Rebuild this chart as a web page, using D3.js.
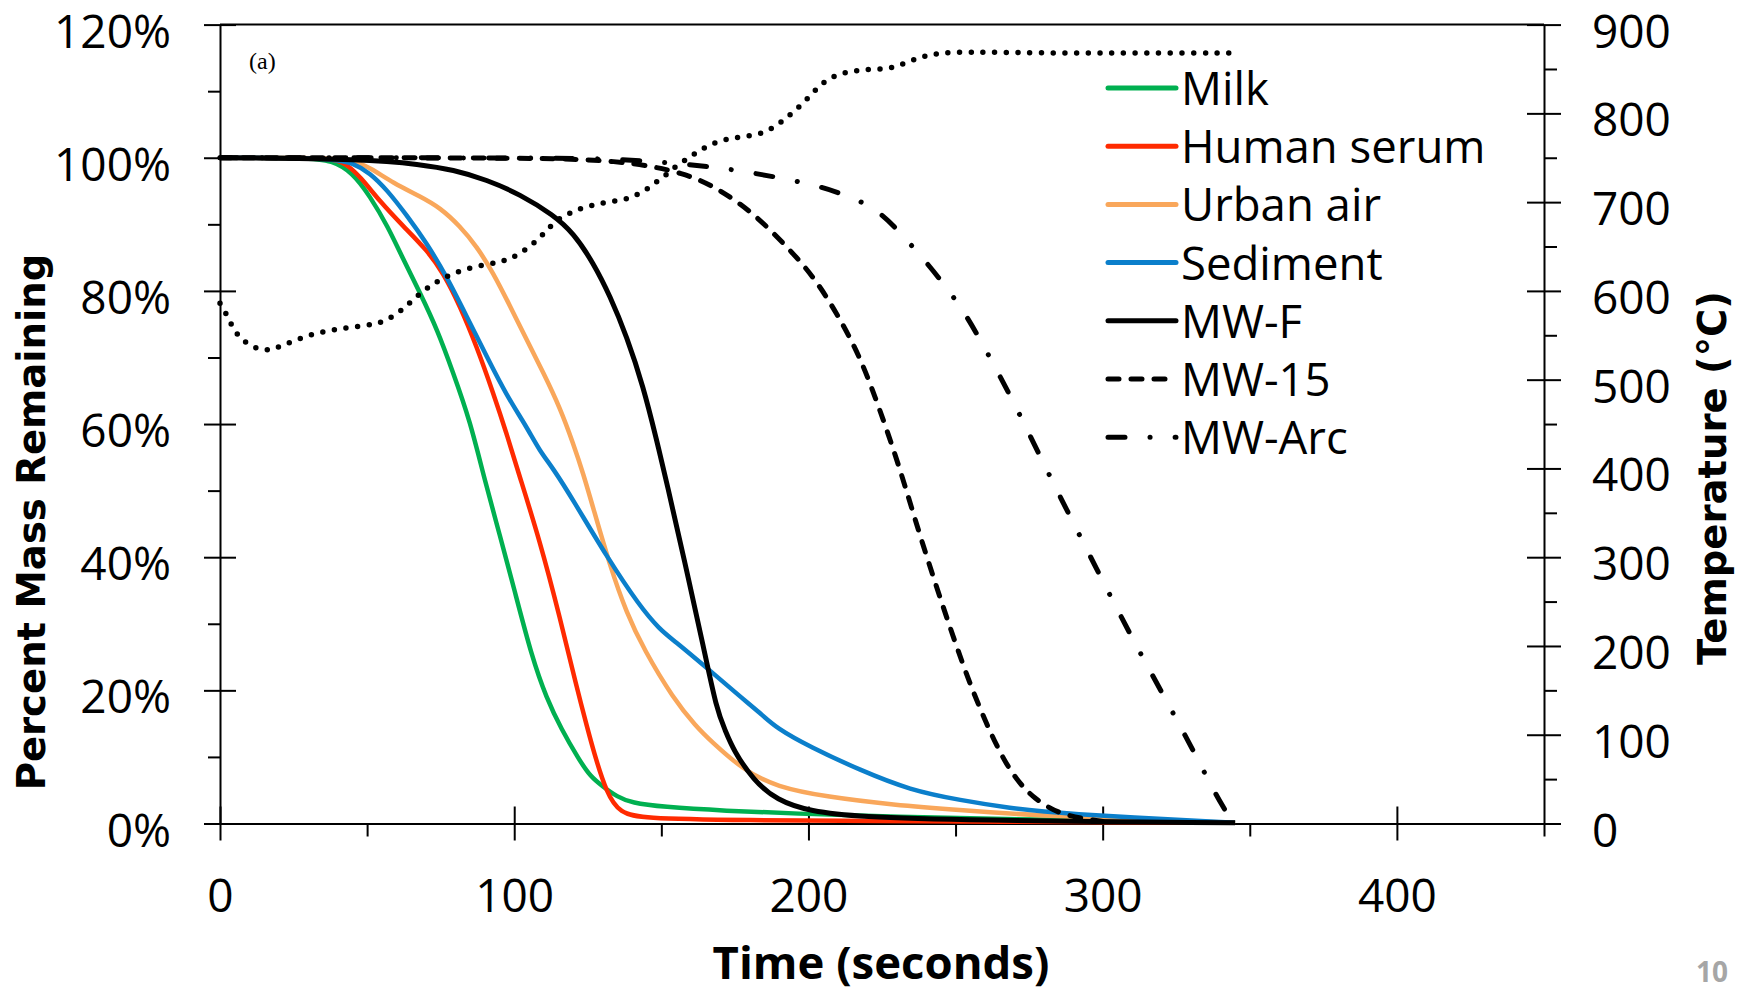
<!DOCTYPE html>
<html>
<head>
<meta charset="utf-8">
<script src="https://cdn.jsdelivr.net/npm/d3@7"></script>
<style>
  body { margin: 0; background: #fff; }
  svg { display: block; }
  .tick text { font-family: "Open Sans", sans-serif; font-size: 46px; fill: #000; }
  .tick line, .domain { stroke: #000; stroke-width: 2; }
</style>
</head>
<body>
<svg id="chart"></svg>
<script>
// time (s) and percent mass remaining for each sample
var milkT  = [0, 30, 38, 45, 51, 57, 62, 68, 74, 79, 85, 90, 95, 100, 106, 111, 116, 122, 126, 130, 135, 140, 150, 172, 195, 229, 274, 345];
var milkP  = [100, 100, 99.6, 97.8, 94.2, 89.7, 85.0, 79.7, 74.0, 68.0, 60.5, 51.5, 43.5, 35.2, 25.0, 18.8, 14.2, 9.6, 7.0, 5.6, 4.0, 3.1, 2.5, 1.9, 1.5, 1.0, 0.6, 0.1];

var serumT = [0, 35, 40, 43, 47.6, 54.4, 62.3, 70.2, 75.9, 81.6, 87.2, 93, 97.4, 101, 108.7, 115.5, 121.2, 125, 127, 131.4, 136, 144, 172, 250, 345];
var serumP = [100, 100, 99.6, 99, 97.2, 93.4, 89.7, 86.2, 82.7, 77.7, 71.7, 64.5, 58.6, 53.3, 42.5, 31.0, 20.5, 14.1, 10.8, 4.5, 1.5, 0.8, 0.5, 0.3, 0.1];

var airT = [0, 38, 45.3, 51, 58.9, 68, 74.8, 81.6, 87.2, 92.9, 98.6, 104.2, 109.9, 115.6, 120.1, 123.5, 126.9, 132.6, 138.2, 144, 154, 162, 166.6, 177.9, 189.2, 206.2, 228.9, 251.6, 279.9, 345];
var airP = [100, 100, 99.6, 98.5, 96.2, 94.2, 92.5, 89.7, 86.7, 82.7, 77.7, 72.7, 67.7, 62.4, 57, 52.5, 47.3, 38.6, 31.6, 26.2, 18.8, 14.5, 12.5, 8.0, 5.5, 4.0, 2.8, 2.0, 1.1, 0.1];

var sedT = [0, 38, 45.3, 51, 56.7, 63.4, 70.2, 77, 83.8, 90.6, 97.4, 104.2, 108.6, 113.3, 120, 131.4, 142.7, 149.6, 154, 165.4, 176.7, 183.6, 189.2, 200.6, 217.6, 234.6, 251.6, 268.6, 284.5, 345];
var sedP = [100, 100, 99.2, 97.7, 95.2, 91.4, 87.2, 82.2, 76.2, 70.2, 64.3, 59.6, 56, 53.3, 48.6, 40.1, 32.6, 29.1, 27.6, 23.4, 19.1, 16.6, 14.3, 11.5, 8.0, 5.0, 3.5, 2.3, 1.5, 0.1];

var mwfT = [0, 50, 68, 79.3, 90.6, 102, 113.3, 120.1, 126.9, 132.6, 138.2, 143.9, 148.4, 151.9, 158, 164.3, 168.8, 171.7, 174.5, 181.3, 189.2, 200.6, 217.6, 251.6, 345];
var mwfP = [100, 99.8, 99.0, 98.2, 96.7, 94.5, 91.4, 88.7, 84.2, 79.2, 73.2, 65.6, 57.6, 51.1, 39.2, 26.6, 17.1, 14.0, 11.0, 6.5, 3.5, 1.8, 1.0, 0.5, 0.1];

var mw15T = [0, 100, 136, 158.6, 169.9, 181.3, 192.6, 201.7, 209.6, 217.5, 224, 231, 238, 248, 256, 265, 270.8, 276.5, 285.5, 297, 300];
var mw15P = [100, 100, 99.7, 97.7, 95.2, 91.7, 86.7, 82.2, 76.7, 70.2, 62.5, 53.5, 43, 29.5, 19.5, 10.5, 6.5, 3.8, 1.3, 0.5, 0.3];

var arcT = [0, 120, 140, 158.6, 169.9, 181.3, 192.6, 204, 215.3, 224.4, 232.3, 240.3, 247.1, 253, 259, 269.7, 279.3, 289.5, 299.6, 309.8, 320.6, 331.4, 337.6, 341.9, 344];
var arcP = [100, 100, 99.7, 99.0, 98.5, 97.7, 96.8, 95.7, 94, 91.9, 88.2, 84.2, 80.4, 76.8, 72.2, 63.4, 54.6, 45.6, 36.8, 28, 19.3, 10.5, 5.0, 1.8, 0.2];

// furnace temperature (°C) on the right axis
var tempT = [0, 2, 4, 6, 9, 13, 17, 21, 28, 36, 44, 52, 56, 60, 63, 66, 69, 72.5, 79, 87, 95, 99, 102.5, 106, 109, 111.6, 114.4, 118.4, 121.8, 125.8, 129.7, 133.7, 138, 141.6, 145, 148.4, 151.8, 154.7, 158, 161.5, 165, 168.8, 172.6, 176.5, 180.7, 184.7, 188.1, 191.5, 194.6, 197.7, 200.6, 203.4, 206.4, 210.2, 214.1, 218.1, 222, 226.2, 230, 233.9, 237.7, 241.6, 245.6, 250, 260, 280, 300, 320, 345];
var tempC = [586, 575, 561, 550, 541, 534, 533, 538, 548, 555, 559, 562, 566, 574, 582, 591, 600, 608, 620, 628, 632, 637, 643, 652, 661, 670, 680, 687, 692, 696, 699, 701, 703, 708, 714, 723, 731, 740, 747, 755, 762, 768, 771, 773, 775, 778, 784, 792, 801, 810, 820, 830, 838, 844, 847, 849, 850, 850, 853, 858, 863, 866, 868, 869, 869, 868, 868, 868, 868];

var names  = ["Milk", "Human serum", "Urban air", "Sediment", "MW-F", "MW-15", "MW-Arc"];
var colors = ["#00b050", "#ff2a00", "#f9a75b", "#0b7fcb", "#000", "#000", "#000"];
var dashes = [null, null, null, null, null, "11 12", "17 25 0.1 25"];
var times  = [milkT, serumT, airT, sedT, mwfT, mw15T, arcT];
var values = [milkP, serumP, airP, sedP, mwfP, mw15P, arcP];

var xTicks = [0, 100, 200, 300, 400];
var xMinor = [50, 150, 250, 350, 450];
var pTicks = [0, 20, 40, 60, 80, 100, 120];
var pMinor = [10, 30, 50, 70, 90, 110];
var cTicks = [0, 100, 200, 300, 400, 500, 600, 700, 800, 900];
var cMinor = [50, 150, 250, 350, 450, 550, 650, 750, 850];

var width = 1752, height = 992;
var svg = d3.select("#chart").attr("width", width).attr("height", height);

var x  = d3.scaleLinear().domain([0, 450]).range([220, 1544]);
var yP = d3.scaleLinear().domain([0, 120]).range([823.5, 24.6]);
var yC = d3.scaleLinear().domain([0, 900]).range([823.5, 24.6]);

// axes: majors cross the axis line, minors stick out only
function noDomain(g) { g.select(".domain").remove(); }

svg.append("g").attr("transform", "translate(0," + yP(0) + ")")
   .call(d3.axisBottom(x).tickValues(xTicks).tickSize(17).tickSizeOuter(0).tickPadding(39));
svg.append("g").attr("transform", "translate(0," + yP(0) + ")")
   .call(d3.axisTop(x).tickValues(xTicks).tickSize(17).tickFormat("")).call(noDomain);
svg.append("g").attr("transform", "translate(0," + yP(0) + ")")
   .call(d3.axisBottom(x).tickValues(xMinor).tickSize(13).tickFormat("")).call(noDomain);

var left = svg.append("g").attr("transform", "translate(" + x(0) + ",0)")
   .call(d3.axisLeft(yP).tickValues(pTicks).tickSize(16).tickSizeOuter(0).tickPadding(33).tickFormat(function(d){ return d + "%"; }));
left.selectAll("text").attr("dy", "0.49em");
svg.append("g").attr("transform", "translate(" + x(0) + ",0)")
   .call(d3.axisRight(yP).tickValues(pTicks).tickSize(16).tickFormat("")).call(noDomain);
svg.append("g").attr("transform", "translate(" + x(0) + ",0)")
   .call(d3.axisLeft(yP).tickValues(pMinor).tickSize(12).tickFormat("")).call(noDomain);

var right = svg.append("g").attr("transform", "translate(" + x(450) + ",0)")
   .call(d3.axisRight(yC).tickValues(cTicks).tickSize(17).tickSizeOuter(0).tickPadding(31));
right.selectAll("text").attr("dy", "0.49em");
svg.append("g").attr("transform", "translate(" + x(450) + ",0)")
   .call(d3.axisLeft(yC).tickValues(cTicks).tickSize(17).tickFormat("")).call(noDomain);
svg.append("g").attr("transform", "translate(" + x(450) + ",0)")
   .call(d3.axisRight(yC).tickValues(cMinor).tickSize(13).tickFormat("")).call(noDomain);

// top frame line
svg.append("line")
   .attr("x1", x(0)).attr("x2", x(450))
   .attr("y1", yP(120)).attr("y2", yP(120))
   .attr("stroke", "#000").attr("stroke-width", 2);

// series
var line = d3.line().curve(d3.curveBasis);

names.forEach(function(name, i) {
  var pts = times[i].map(function(t, j) { return [x(t), yP(values[i][j])]; });
  svg.append("path")
     .attr("d", line(pts))
     .attr("fill", "none")
     .attr("stroke", colors[i])
     .attr("stroke-width", i < 4 ? 4.5 : 5)
     .attr("stroke-linecap", dashes[i] ? "round" : "butt")
     .attr("stroke-dasharray", dashes[i]);
});

svg.append("path")
   .attr("d", line(tempT.map(function(t, j) { return [x(t), yC(tempC[j])]; })))
   .attr("fill", "none")
   .attr("stroke", "#000")
   .attr("stroke-width", 5.5)
   .attr("stroke-linecap", "round")
   .attr("stroke-dasharray", "0 11.7");

// legend
var legend = svg.append("g").attr("transform", "translate(0,88)");
names.forEach(function(name, i) {
  var g = legend.append("g").attr("transform", "translate(0," + (i * 58.2) + ")");
  g.append("line")
   .attr("x1", 1108).attr("x2", 1176).attr("y1", 0).attr("y2", 0)
   .attr("stroke", colors[i]).attr("stroke-width", 5)
   .attr("stroke-linecap", "round")
   .attr("stroke-dasharray", dashes[i]);
  g.append("text")
   .attr("x", 1181).attr("y", 17)
   .style("font-family", "'Open Sans', sans-serif")
   .style("font-size", "45.5px")
   .text(name);
});

// titles
svg.append("text")
   .attr("transform", "translate(45,522) rotate(-90)")
   .attr("text-anchor", "middle")
   .style("font-family", "'DejaVu Sans', sans-serif")
   .style("font-weight", "bold")
   .style("font-size", "38.6px")
   .text("Percent Mass Remaining");

svg.append("text")
   .attr("transform", "translate(1726,478) rotate(-90)")
   .attr("text-anchor", "middle")
   .style("font-family", "'DejaVu Sans', sans-serif")
   .style("font-weight", "bold")
   .style("font-size", "38.6px")
   .text("Temperature (°C)");

svg.append("text")
   .attr("x", 881).attr("y", 979)
   .attr("text-anchor", "middle")
   .style("font-family", "'Open Sans', sans-serif")
   .style("font-weight", "bold")
   .style("font-size", "45.5px")
   .text("Time (seconds)");

svg.append("text")
   .attr("x", 249).attr("y", 69)
   .style("font-family", "'Liberation Serif', serif")
   .style("font-size", "24px")
   .text("(a)");

svg.append("text")
   .attr("x", 1696).attr("y", 982)
   .style("font-family", "'Open Sans', sans-serif")
   .style("font-weight", "bold")
   .style("font-size", "28px")
   .style("fill", "#a6a6a6")
   .text("10");
</script>
</body>
</html>
